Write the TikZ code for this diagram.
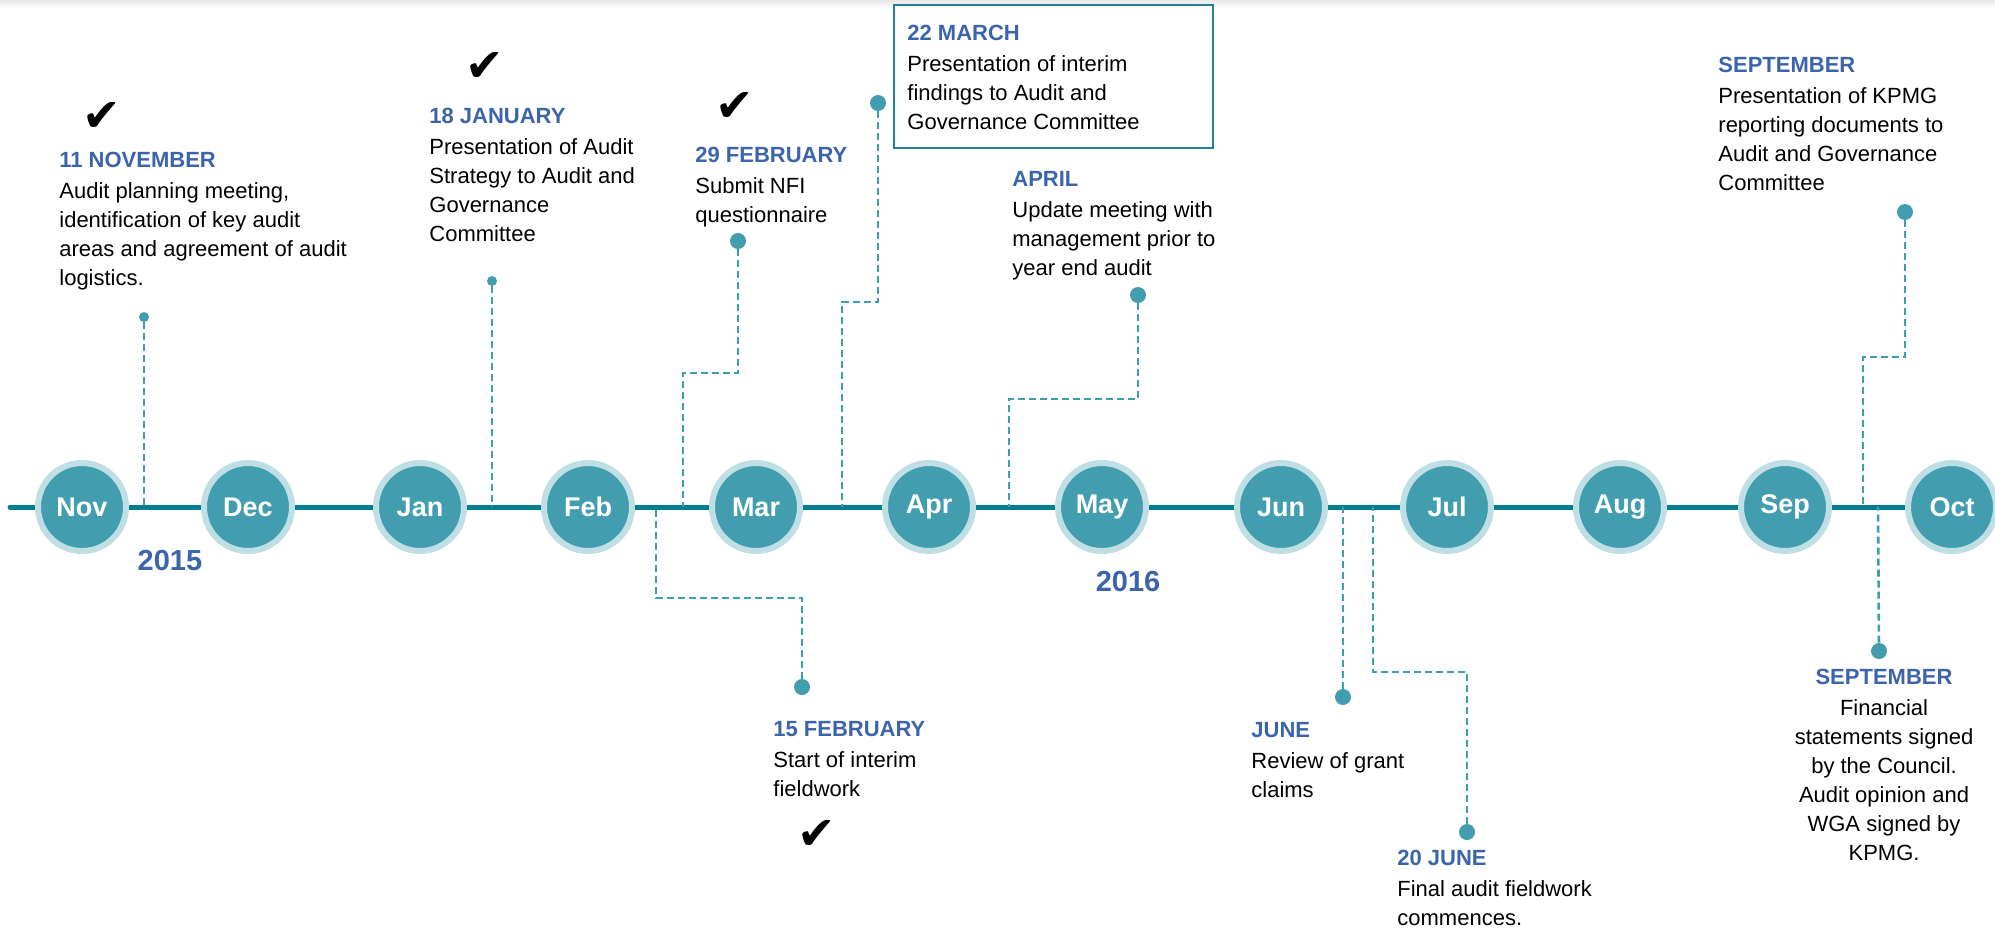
\documentclass[tikz,border=0pt]{standalone}
\usepackage{fontspec}
\setmainfont{Liberation Sans}
\newfontfamily\symfont{DejaVu Sans}
\usetikzlibrary{positioning}
\definecolor{tealline}{HTML}{007D8F}
\definecolor{tealfill}{HTML}{429EAF}
\definecolor{tealring}{HTML}{C0DFE5}
\definecolor{dashteal}{HTML}{3C9FB0}
\definecolor{headblue}{HTML}{3C64AA}
\definecolor{boxteal}{HTML}{1E8396}
\tikzset{
    month/.style={
        circle,
        fill=tealfill,
        draw=tealring,
        line width=3pt,
        minimum size=44pt,
        inner sep=0pt,
        text=white,
        font=\fontsize{13.5}{13.5}\selectfont\bfseries
    },
    evdot/.style={
        circle,
        fill=tealfill,
        minimum size=8pt,
        inner sep=0pt
    },
    evdotsm/.style={
        evdot,
        minimum size=5pt
    },
    event/.style={
        anchor=north west,
        inner sep=0pt,
        align=left,
        font=\fontsize{11}{14.5}\selectfont
    },
    eventc/.style={
        event,
        anchor=north,
        align=center
    },
    conn/.style={
        dashteal,
        line width=1.3pt,
        dash pattern=on 3.5pt off 2pt
    },
    timeline/.style={
        tealline,
        line width=2.5pt,
        line cap=round
    },
    donemark/.style={font=\symfont\fontsize{23}{23}\selectfont},
    yearlbl/.style={
        anchor=base,
        text=headblue,
        font=\fontsize{14.5}{14.5}\selectfont\bfseries
    }
}
\newcommand{\evhead}[1]{{\color{headblue}\bfseries #1}\\[1pt]}

\begin{document}
\begin{tikzpicture}[x=0.5pt,y=-0.5pt]
\useasboundingbox (0,0) rectangle (1995,933);
\shade[top color=black!9, bottom color=white] (0,0) rectangle (1995,9);

% timeline
\coordinate (tl-start) at (10,507);
\coordinate (tl-end) at (1995,507);
\draw[timeline] (tl-start) -- (tl-end);

% points where the connectors meet the timeline
\coordinate (nov-t) at (144,507);
\coordinate (jan-t) at (492,507);
\coordinate (feb15-t) at (656,507);
\coordinate (feb29-t) at (683,507);
\coordinate (mar-t) at (842,507);
\coordinate (apr-t) at (1009,507);
\coordinate (jun-t) at (1343,507);
\coordinate (jun20-t) at (1373,507);
\coordinate (sepup-t) at (1863,507);
\coordinate (sepdn-t) at (1878,507);

% dots
\node[evdotsm] (nov-dot) at (144,317) {};
\node[evdotsm] (jan-dot) at (492,281) {};
\node[evdot] (feb29-dot) at (738,241) {};
\node[evdot] (mar-dot) at (878,103) {};
\node[evdot] (apr-dot) at (1138,295) {};
\node[evdot] (sepup-dot) at (1905,212) {};
\node[evdot] (feb15-dot) at (802,687) {};
\node[evdot] (jun-dot) at (1343,697) {};
\node[evdot] (jun20-dot) at (1467,832) {};
\node[evdot] (sepdn-dot) at (1879,651) {};

% connectors
\draw[conn] (nov-dot) -- (nov-t);
\draw[conn] (jan-dot) -- (jan-t);
\draw[conn] (feb29-dot) -- ++(0,132) -| (feb29-t);
\draw[conn] (mar-dot) -- ++(0,199) -| (mar-t);
\draw[conn] (apr-dot) -- ++(0,104) -| (apr-t);
\draw[conn] (sepup-dot) -- ++(0,145) -| (sepup-t);
\draw[conn] (feb15-dot) -- ++(0,-89) -| (feb15-t);
\draw[conn] (jun-dot) -- (jun-t);
\draw[conn] (jun20-dot) -- ++(0,-160) -| (jun20-t);
\draw[conn] (sepdn-dot) -- (sepdn-t);

% months
\node[month] (nov) at (82,507) {Nov};
\node[month] (dec) at (248,507) {Dec};
\node[month] (jan) at (420,507) {Jan};
\node[month] (feb) at (588,507) {Feb};
\node[month] (mar) at (756,507) {Mar};
\node[month] (apr) at (929,507) {Apr};
\node[month] (may) at (1102,507) {May};
\node[month] (jun) at (1281,507) {Jun};
\node[month] (jul) at (1447,507) {Jul};
\node[month] (aug) at (1620,507) {Aug};
\node[month] (sep) at (1785,507) {Sep};
\node[month] (oct) at (1952,507) {Oct};

\node[yearlbl] (y2015) at (170,570) {2015};
\node[yearlbl] (y2016) at (1128,591) {2016};

% events above the line
\node[event] (nov-txt) at (59,152) {\evhead{11 NOVEMBER}Audit planning meeting,\\identification of key audit\\areas and agreement of audit\\logistics.};
\node[event] (jan-txt) at (429,108) {\evhead{18 JANUARY}Presentation of Audit\\Strategy to Audit and\\Governance\\Committee};
\node[event] (feb29-txt) at (695,147) {\evhead{29 FEBRUARY}Submit NFI\\questionnaire};
\draw[boxteal, line width=1pt] (894,5) rectangle (1213,148);
\node[event] (mar-txt) at (907,25) {\evhead{22 MARCH}Presentation of interim\\findings to Audit and\\Governance Committee};
\node[event] (apr-txt) at (1012,171) {\evhead{APRIL}Update meeting with\\management prior to\\year end audit};
\node[event] (sepup-txt) at (1718,57) {\evhead{SEPTEMBER}Presentation of KPMG\\reporting documents to\\Audit and Governance\\Committee};

% events below the line
\node[event] (feb15-txt) at (773,721) {\evhead{15 FEBRUARY}Start of interim\\fieldwork};
\node[event] (jun-txt) at (1251,722) {\evhead{JUNE}Review of grant\\claims};
\node[event] (jun20-txt) at (1397,850) {\evhead{20 JUNE}Final audit fieldwork\\commences.};
\node[eventc] (sepdn-txt) at (1884,669) {\evhead{SEPTEMBER}Financial\\statements signed\\by the Council.\\Audit opinion and\\WGA signed by\\KPMG.};

% completed marks
\node[donemark] (nov-ok) at (102,117) {✔};
\node[donemark] (jan-ok) at (485,67) {✔};
\node[donemark] (feb29-ok) at (735,107) {✔};
\node[donemark] (feb15-ok) at (817,835) {✔};

\end{tikzpicture}
\end{document}
